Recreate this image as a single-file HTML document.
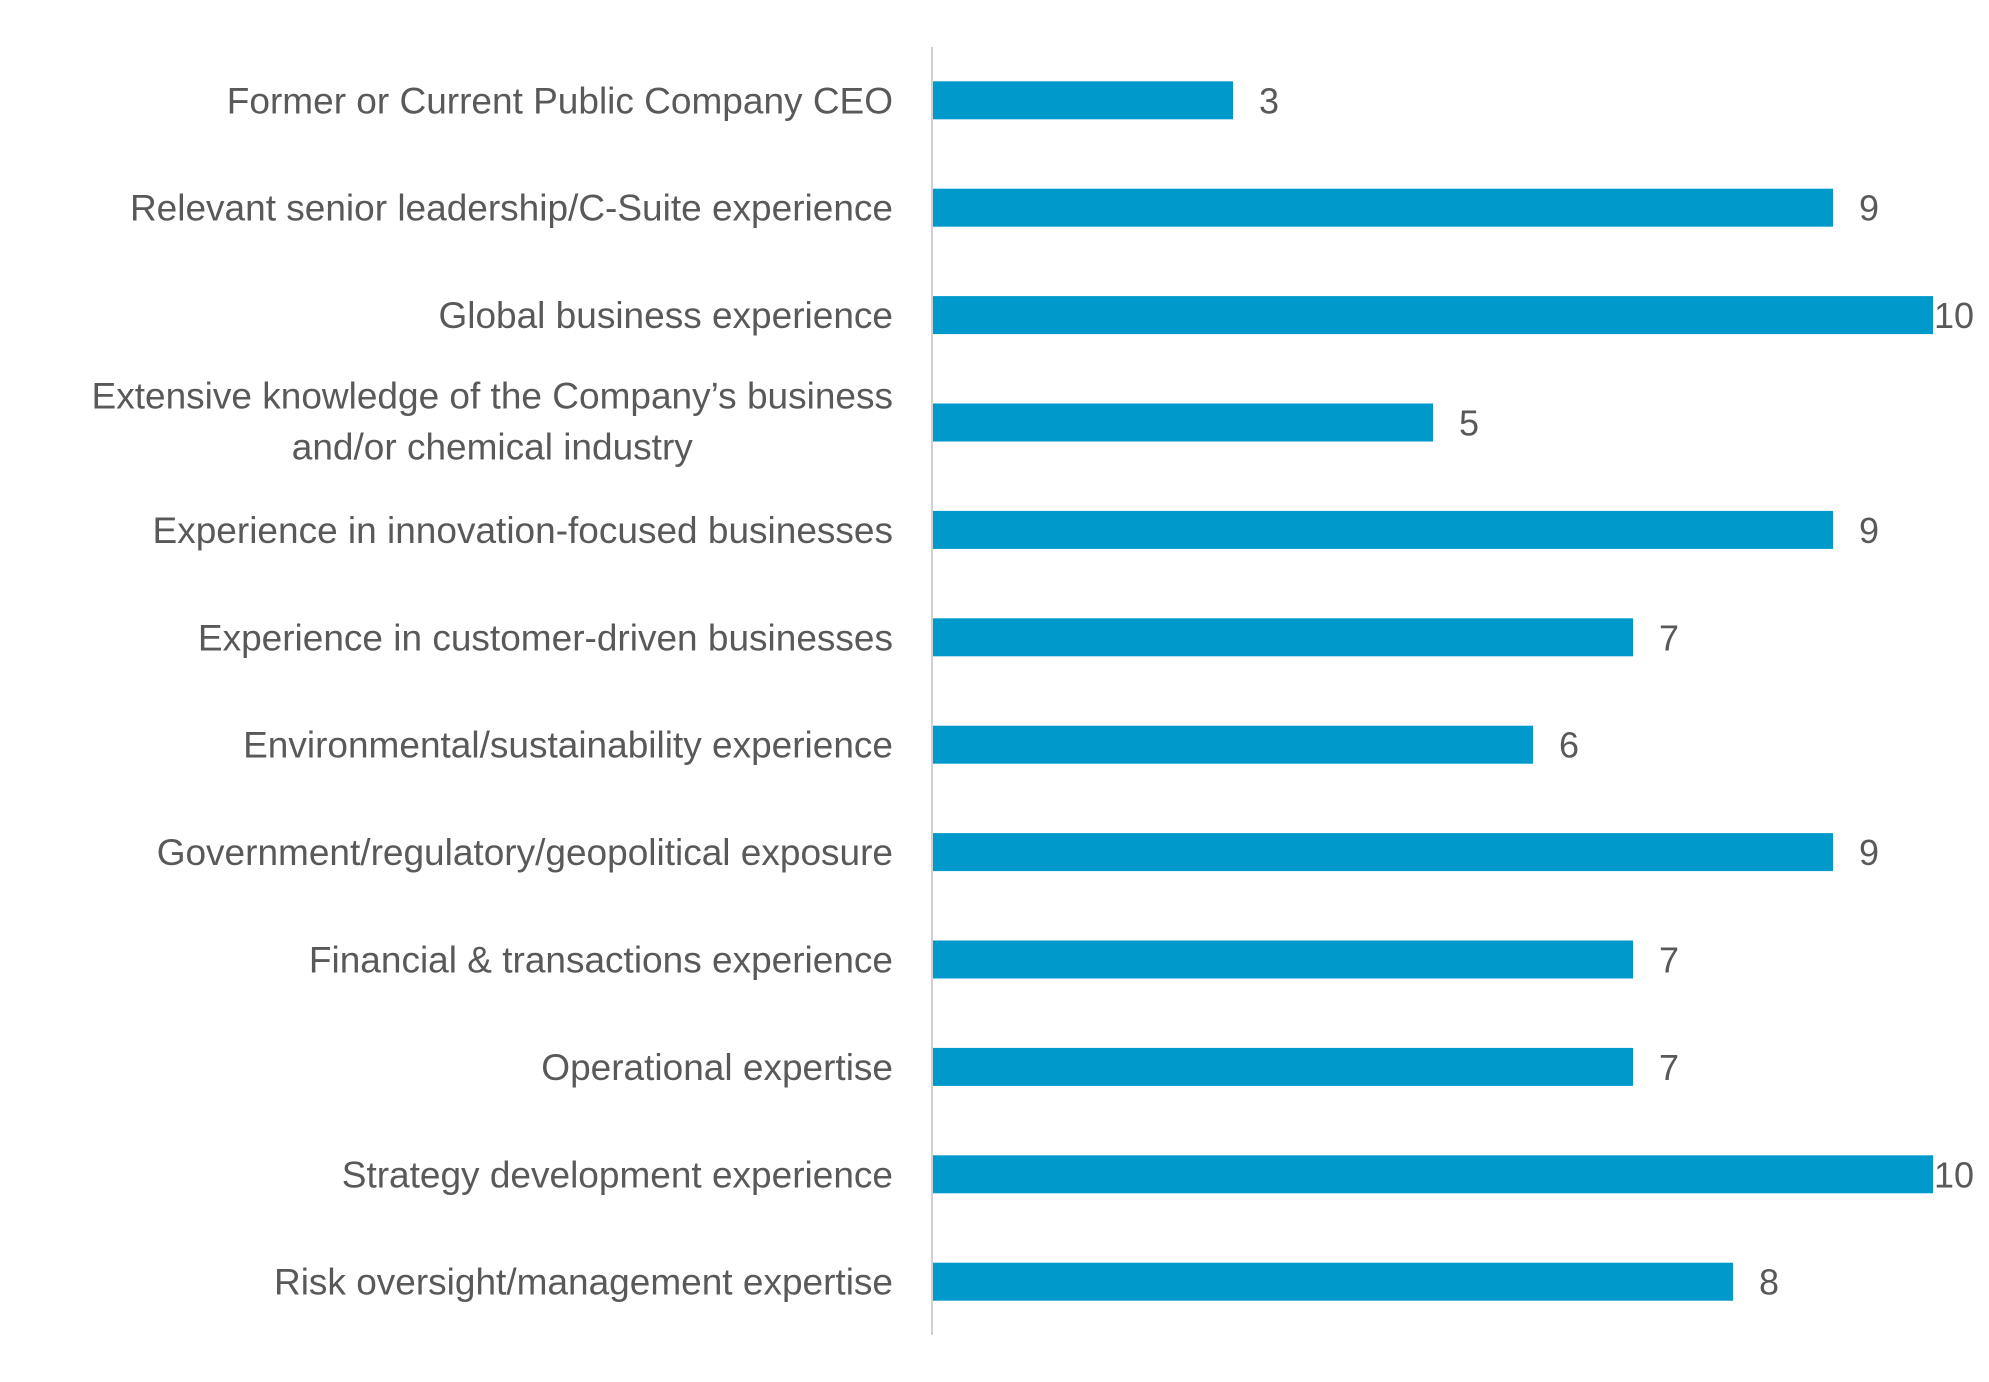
<!DOCTYPE html>
<html><head><meta charset="utf-8"><style>
html,body{margin:0;padding:0;background:#fff;}
svg{display:block;}
text{font-family:"Liberation Sans",sans-serif;fill:#595959;}
</style></head><body>
<svg id="chart" width="1989" height="1382" viewBox="0 0 1989 1382" xmlns="http://www.w3.org/2000/svg"></svg>
<script>
const categories = [
  ["Former or Current Public Company CEO"],
  ["Relevant senior leadership/C-Suite experience"],
  ["Global business experience"],
  ["Extensive knowledge of the Company’s business","and/or chemical industry"],
  ["Experience in innovation-focused businesses"],
  ["Experience in customer-driven businesses"],
  ["Environmental/sustainability experience"],
  ["Government/regulatory/geopolitical exposure"],
  ["Financial & transactions experience"],
  ["Operational expertise"],
  ["Strategy development experience"],
  ["Risk oversight/management expertise"]
];
const values = [3, 9, 10, 5, 9, 7, 6, 9, 7, 7, 10, 8];
const valueLabels = ["3","9","10","5","9","7","6","9","7","7","10","8"];

const svg = document.getElementById('chart');
const NS = 'http://www.w3.org/2000/svg';
const x0 = 933, unit = 100, rowTop = 46.6, rowH = 107.4, barH = 38;
function xScale(v){ return x0 + v*unit; }
function yCenter(i){ return rowTop + rowH*(i+0.5); }

function mk(tag, attrs){ const e=document.createElementNS(NS,tag); for(const k in attrs) e.setAttribute(k,attrs[k]); svg.appendChild(e); return e; }

values.forEach((v,i)=>{
  const cy = yCenter(i);
  const r = mk('rect',{x:x0, y:cy-barH/2, width:xScale(v)-x0, height:barH, fill:'#0099CC'});
  
  
  let lx = Math.min(xScale(v)+26, 1934);
  const t = mk('text',{x:lx, y:cy+13, 'font-size':36});
  t.textContent = valueLabels[i];
  
  
  const lines = categories[i];
  if(lines.length===1){
    const lab = mk('text',{x:893, y:cy+13, 'text-anchor':'end', 'font-size':37});
    lab.textContent = lines[0];
    
    
  } else {
    const l1 = mk('text',{x:893, y:cy-14, 'text-anchor':'end', 'font-size':37});
    l1.textContent = lines[0];
    
    
    const w = l1.getComputedTextLength();
    const l2 = mk('text',{x:893 - w/2, y:cy+37, 'text-anchor':'middle', 'font-size':37});
    l2.textContent = lines[1];
    
    
  }
});
const ax = mk('line',{x1:932, x2:932, y1:47, y2:1335, stroke:'#D0D0D0', 'stroke-width':2});


</script>
</body></html>
